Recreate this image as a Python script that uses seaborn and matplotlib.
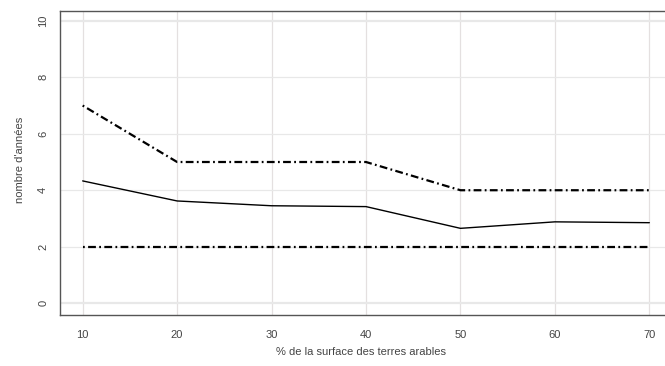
import numpy as np
import pandas as pd
import matplotlib
matplotlib.use("Agg")
import matplotlib.pyplot as plt
import seaborn as sns

# ---------------------- data ----------------------
pct_surface = [10, 20, 30, 40, 50, 60, 70]
upper_band = [7, 5, 5, 5, 4, 4, 4]
mean_years = [4.33, 3.62, 3.45, 3.42, 2.65, 2.88, 2.85]
lower_band = [2, 2, 2, 2, 2, 2, 2]
y_ticks = [0, 2, 4, 6, 8, 10]
x_ticks = [10, 20, 30, 40, 50, 60, 70]
# ---------------------------------------------------------------------------

df = pd.DataFrame({
    "pct": pct_surface * 3,
    "years": upper_band + mean_years + lower_band,
    "serie": ["haut"] * 7 + ["moyenne"] * 7 + ["bas"] * 7,
})

sns.set_style("white")
plt.rcParams["font.family"] = ["Liberation Sans", "DejaVu Sans"]

fig = plt.figure(figsize=(6.65, 3.66), dpi=100)
W, H = 665, 366
AX_H = 315 - 10.7
# axes box: left 60px, top ~10.7px, bottom 315px, right edge off the picture
ax = fig.add_axes([60 / W, (H - 315) / H, 612 / W, AX_H / H])

text_col = "#444444"
grid_col = "#e4e0e0"

ax.set_xlim(7.6, 72.4)
ax.set_ylim(-0.42, 10.36)
for x in x_ticks:
    ax.axvline(x, color=grid_col, lw=0.9, zorder=0)
for y in y_ticks:
    ax.axhline(y, color="#e8e8e8", lw=1.6 if y in (0, 10) else 0.9, zorder=0)

dashdot = (0, (0.8, 1.5, 3.5, 1.5))
sns.lineplot(data=df[df.serie == "haut"], x="pct", y="years", ax=ax,
             color="black", lw=1.6, linestyle=dashdot)
sns.lineplot(data=df[df.serie == "bas"], x="pct", y="years", ax=ax,
             color="black", lw=1.6, linestyle=dashdot)
sns.lineplot(data=df[df.serie == "moyenne"], x="pct", y="years", ax=ax,
             color="black", lw=1.0)

ax.set_xticks(x_ticks)
ax.set_yticks(y_ticks)
ax.set_yticklabels([str(v) for v in y_ticks], rotation=90, va="center")
ax.tick_params(axis="both", direction="out", length=4.5, width=0.8,
               color="#555555", labelcolor=text_col, labelsize=8)
ax.tick_params(axis="x", pad=6)
ax.tick_params(axis="y", pad=4)

for s in ["left", "bottom", "top"]:
    ax.spines[s].set_color("#555555")
    ax.spines[s].set_linewidth(1.0)
ax.spines["right"].set_visible(False)

ax.set_xlabel("% de la surface des terres arables", fontsize=8, color=text_col,
              va="center")
ax.set_ylabel("nombre d'années", fontsize=8, color=text_col, va="center")
ax.xaxis.set_label_coords((361 - 60) / 612, -(352 - 315) / AX_H)
ax.yaxis.set_label_coords(-(60 - 20) / 612, (315 - 160) / AX_H)

fig.savefig("out.png", dpi=100)
